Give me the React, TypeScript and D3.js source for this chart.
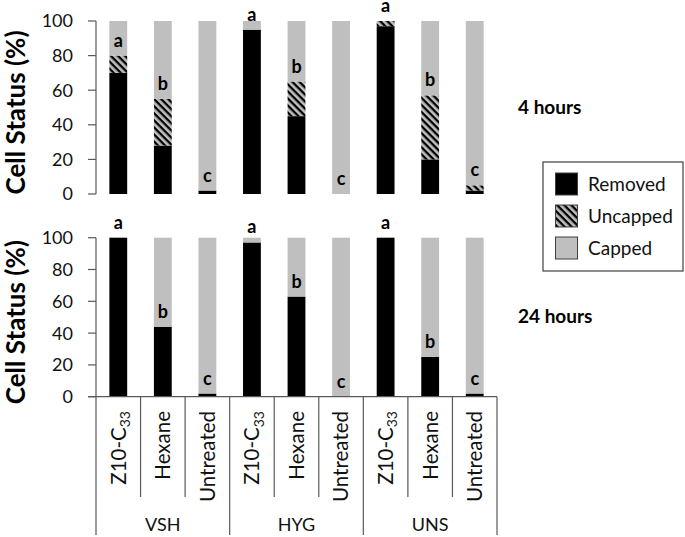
import React from "react";
import * as d3 from "d3";

// categories and groups
const groups = ["VSH", "HYG", "UNS"];
const treatments = ["Z10-C33", "Hexane", "Untreated"];
const letters = ["a", "b", "c", "a", "b", "c", "a", "b", "c"];

// 4 hours (%)
const removed4h = [70, 28, 2, 95, 45, 0, 97, 20, 2];
const uncapped4h = [10, 27, 0, 0, 20, 0, 3, 37, 3];
const capped4h = [20, 45, 98, 5, 35, 100, 0, 43, 95];

// 24 hours (%)
const removed24h = [100, 44, 2, 97, 63, 0, 100, 25, 2];
const uncapped24h = [0, 0, 0, 0, 0, 0, 0, 0, 0];
const capped24h = [0, 56, 98, 3, 37, 100, 0, 75, 98];

const yTicks = [0, 20, 40, 60, 80, 100];
const legendItems = ["Removed", "Uncapped", "Capped"];

const W = 685;
const H = 537;
const FONT = "Lato, 'Open Sans', sans-serif";
const BLACK = "#000000";
const GRAY = "#bfbfbf";
const AXIS = "#595959";

const keys = groups.flatMap((g) => treatments.map((t) => g + "|" + t));
const x = d3.scaleBand<string>().domain(keys).range([96, 497]).paddingInner(0).paddingOuter(0);
const xGroup = d3.scaleBand<string>().domain(groups).range([96, 497]);
const barW = x.bandwidth() * 0.4;

const fills = [BLACK, "url(#hatch)", GRAY];

function Panel({
  top,
  bottom,
  removed,
  uncapped,
  capped,
  showXAxis,
  label,
}: {
  top: number;
  bottom: number;
  removed: number[];
  uncapped: number[];
  capped: number[];
  showXAxis: boolean;
  label: string;
}) {
  const y = d3.scaleLinear().domain([0, 100]).range([bottom, top]);
  const rows = keys.map((k, i) => ({ k, vals: [removed[i], uncapped[i], capped[i]] }));
  const stack = d3.stack<any>().keys(["0", "1", "2"]).value((d, key) => d.vals[+key]);
  const series = stack(rows);
  const tickLen = 8;
  return (
    <g>
      {series.map((s, si) => (
        <g key={si} fill={fills[si]}>
          {s.map((d, i) => (
            <rect
              key={i}
              x={(x(keys[i]) as number) + (x.bandwidth() - barW) / 2}
              y={y(d[1])}
              width={barW}
              height={Math.max(0, y(d[0]) - y(d[1]))}
            />
          ))}
        </g>
      ))}
      {keys.map((k, i) => (
        <text
          key={k}
          x={(x(k) as number) + x.bandwidth() / 2}
          y={y(removed[i] + uncapped[i]) - 9}
          textAnchor="middle"
          fontFamily={FONT}
          fontWeight="bold"
          fontSize={18}
          fill={BLACK}
        >
          {letters[i]}
        </text>
      ))}
      {/* y axis */}
      <line x1={96} x2={96} y1={y(0)} y2={y(100)} stroke={AXIS} strokeWidth={1.2} />
      {yTicks.map((t) => (
        <g key={t}>
          <line x1={96 - tickLen} x2={96} y1={y(t)} y2={y(t)} stroke={AXIS} strokeWidth={1.2} />
          <text
            x={73}
            y={y(t)}
            dy="0.36em"
            textAnchor="end"
            fontFamily={FONT}
            fontSize={18}
            fill="#111"
          >
            {t}
          </text>
        </g>
      ))}
      <text
        transform={`translate(${16},${(top + bottom) / 2 + 5}) rotate(-90)`}
        textAnchor="middle"
        dy="0.36em"
        fontFamily={FONT}
        fontWeight="bold"
        fontSize={26}
        fill={BLACK}
      >
        Cell Status (%)
      </text>
      <text x={518} y={(top + bottom) / 2 + 6} fontFamily={FONT} fontWeight="bold" fontSize={19} fill={BLACK}>
        {label}
      </text>
      {showXAxis && (
        <g>
          <line x1={96 - tickLen} x2={497} y1={y(0)} y2={y(0)} stroke={AXIS} strokeWidth={1.2} />
          {keys.map((k) => (
            <line
              key={k}
              x1={x(k) as number}
              x2={x(k) as number}
              y1={y(0)}
              y2={497}
              stroke={AXIS}
              strokeWidth={1.2}
            />
          ))}
          <line x1={497} x2={497} y1={y(0)} y2={497} stroke={AXIS} strokeWidth={1.2} />
          {groups.concat(["end"]).map((g, i) => {
            const gx = i < groups.length ? (xGroup(g) as number) : 497;
            return <line key={g} x1={gx} x2={gx} y1={497} y2={535} stroke={AXIS} strokeWidth={1.2} />;
          })}
          {keys.map((k, i) => {
            const t = treatments[i % 3];
            const cx = (x(k) as number) + x.bandwidth() / 2;
            return (
              <text
                key={k}
                transform={`translate(${cx},${411}) rotate(-90)`}
                textAnchor="end"
                dy="0.36em"
                fontFamily={FONT}
                fontSize={20.5}
                fill="#111"
              >
                {t === "Z10-C33" ? (
                  <>
                    Z10-C
                    <tspan fontSize={14} dy="0.3em">
                      33
                    </tspan>
                  </>
                ) : (
                  t
                )}
              </text>
            );
          })}
          {groups.map((g) => (
            <text
              key={g}
              x={(xGroup(g) as number) + xGroup.bandwidth() / 2}
              y={525}
              dy="0.36em"
              textAnchor="middle"
              fontFamily={FONT}
              fontSize={18}
              fill="#111"
            >
              {g}
            </text>
          ))}
        </g>
      )}
    </g>
  );
}

function Legend() {
  const ly = d3.scalePoint<string>().domain(legendItems).range([184, 248]);
  return (
    <g>
      <rect x={543} y={162} width={140} height={109} fill="white" stroke="#404040" strokeWidth={1.2} />
      {legendItems.map((item, i) => (
        <g key={item}>
          <rect
            x={555.5}
            y={(ly(item) as number) - 11}
            width={22}
            height={22}
            fill={fills[i]}
            stroke="#404040"
            strokeWidth={1}
          />
          <text x={588} y={ly(item) as number} dy="0.36em" fontFamily={FONT} fontSize={19} fill="#111">
            {item}
          </text>
        </g>
      ))}
    </g>
  );
}

export default function App() {
  return (
    <svg width={W} height={H} style={{ position: "absolute", left: 0, top: 0, background: "white" }}>
      <defs>
        <pattern id="hatch" patternUnits="userSpaceOnUse" width={5} height={5} patternTransform="rotate(45)">
          <rect width={5} height={5} fill={GRAY} />
          <rect width={5} height={2.3} fill={BLACK} />
        </pattern>
      </defs>
      <Panel
        top={21}
        bottom={194}
        removed={removed4h}
        uncapped={uncapped4h}
        capped={capped4h}
        showXAxis={false}
        label="4 hours"
      />
      <Panel
        top={237.7}
        bottom={396.7}
        removed={removed24h}
        uncapped={uncapped24h}
        capped={capped24h}
        showXAxis={true}
        label="24 hours"
      />
      <Legend />
    </svg>
  );
}
